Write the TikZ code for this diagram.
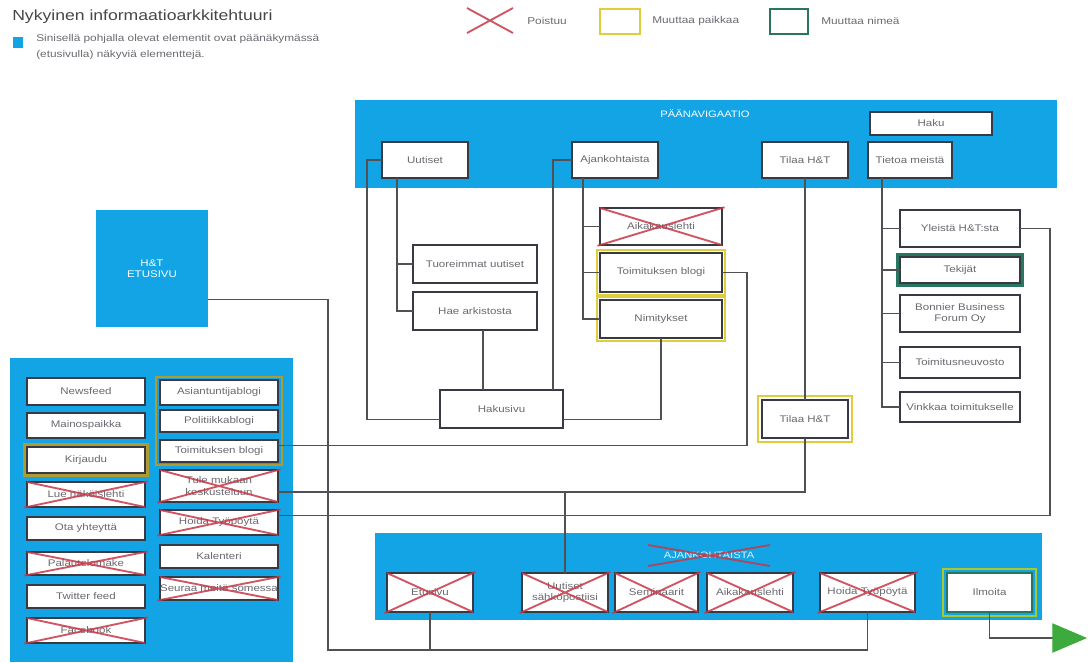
\documentclass[tikz,border=0pt]{standalone}
\usepackage{fontspec}
\setmainfont{Liberation Sans}[FakeStretch=1.2]
\usetikzlibrary{calc,arrows.meta}
\definecolor{panelblue}{RGB}{18,164,229}
\definecolor{edgecol}{RGB}{55,58,66}
\definecolor{txtcol}{RGB}{105,105,112}
\definecolor{xred}{RGB}{200,55,70}
\definecolor{ymove}{RGB}{222,205,60}
\definecolor{olivecol}{RGB}{175,155,50}
\definecolor{tealedge}{RGB}{40,118,95}
\definecolor{limecol}{RGB}{170,200,40}
\definecolor{arrowgreen}{RGB}{60,170,60}
\definecolor{conncol}{RGB}{80,80,85}
\definecolor{titlecol}{RGB}{70,70,75}
\tikzset{
  box/.style={draw=edgecol, line width=0.9pt, fill=white, text=txtcol,
    font=\fontsize{7.2}{8.4}\selectfont, inner sep=0pt, outer sep=0pt, align=center},
  conn/.style={draw=conncol, line width=0.8pt},
  xline/.style={draw=xred, line width=1.4pt, opacity=0.85, shorten <=-2pt, shorten >=-2pt},
  yring/.style={draw=ymove, line width=2.2pt},
  oring/.style={draw=olivecol, line width=2pt},
  tring/.style={draw=tealedge, line width=2.4pt},
  lring/.style={draw=limecol, line width=2pt},
  lbl/.style={text=txtcol, font=\fontsize{7.4}{12}\selectfont, inner sep=0pt, anchor=west, align=left},
}
\newcommand{\bx}[7][]{\node[box,minimum width={(#5-#3)*0.75pt},minimum height={(#6-#4)*0.75pt},#1] (#2) at ({(#3+#5)/2},{(#4+#6)/2}) {#7};}
\newcommand{\strikebox}[1]{\draw[xline] (#1.north west) -- (#1.south east) (#1.north east) -- (#1.south west);}
\newcommand{\ringaround}[3][yring]{\draw[#1] ([shift={(-#3,-#3)}]#2.north west) rectangle ([shift={(#3,#3)}]#2.south east);}
\begin{document}
\begin{tikzpicture}[x=0.75pt,y=-0.75pt]
\useasboundingbox (0,0) rectangle (1088,662);
% ---------- legend ----------
\node[lbl, text=titlecol, font=\fontsize{11}{13}\selectfont] (title) at (12,17) {Nykyinen informaatioarkkitehtuuri};
\fill[panelblue] (13,37) rectangle (23,48);
\node[lbl] (legtext) at (36,47) {Sinisellä pohjalla olevat elementit ovat päänäkymässä\\(etusivulla) näkyviä elementtejä.};
\draw[xline, shorten <=0pt, shorten >=0pt] (467,8) -- (513,33) (467,33) -- (513,8);
\node[lbl] (legx) at (527,21) {Poistuu};
\draw[ymove, line width=2pt] (600,9) rectangle (640,34);
\node[lbl] (legy) at (652,21) {Muuttaa paikkaa};
\draw[tealedge, line width=2pt] (770,9) rectangle (808,34);
\node[lbl] (legt) at (821,21) {Muuttaa nimeä};
% ---------- panels ----------
\fill[panelblue] (355,100) rectangle (1057,188);
\node[text=white, font=\fontsize{7}{9}\selectfont] (navlabel) at (705,114) {PÄÄNAVIGAATIO};
\fill[panelblue] (10,358) rectangle (293,662);
\fill[panelblue] (375,533) rectangle (1042,620);
\node[text=white!85!panelblue, font=\fontsize{7}{9}\selectfont] (ajlabel) at (709,555) {AJANKOHTAISTA};
\draw[xline, shorten <=0pt, shorten >=0pt] (648,545) -- (770,566) (648,566) -- (770,545);
% ---------- nav boxes ----------
\bx{uutiset}{382}{142}{468}{178}{Uutiset}
\bx{ajank}{572}{142}{658}{178}{Ajankohtaista}
\bx{tilaa}{762}{142}{848}{178}{Tilaa H\&T}
\bx{tietoa}{868}{142}{952}{178}{Tietoa meistä}
\bx{haku}{870}{112}{992}{135}{Haku}
% ---------- middle ----------
\bx{tuoreimmat}{413}{245}{537}{283}{Tuoreimmat uutiset}
\bx{haearkisto}{413}{292}{537}{330}{Hae arkistosta}
\bx{hakusivu}{440}{390}{563}{428}{Hakusivu}
\bx{aikakaus}{600}{208}{722}{245}{Aikakauslehti}
\bx{toimblogi}{600}{253}{722}{292}{Toimituksen blogi}
\bx{nimitykset}{600}{300}{722}{338}{Nimitykset}
\bx{tilaa2}{762}{400}{848}{438}{Tilaa H\&T}
\bx{yleista}{900}{210}{1020}{247}{Yleistä H\&T:sta}
\bx{tekijat}{900}{257}{1020}{283}{Tekijät}
\bx{bonnier}{900}{295}{1020}{332}{Bonnier Business\\Forum Oy}
\bx{toimneuv}{900}{347}{1020}{378}{Toimitusneuvosto}
\bx{vinkkaa}{900}{392}{1020}{422}{Vinkkaa toimitukselle}
\bx[fill=panelblue, draw=none, text=white]{htet}{96}{210}{208}{327}{H\&T\\ETUSIVU}
% ---------- left panel ----------
\bx{newsfeed}{27}{378}{145}{405}{Newsfeed}
\bx{mainos}{27}{413}{145}{438}{Mainospaikka}
\bx{kirjaudu}{27}{447}{145}{473}{Kirjaudu}
\bx{lue}{27}{482}{145}{507}{Lue näköislehti}
\bx{ota}{27}{517}{145}{540}{Ota yhteyttä}
\bx{palaute}{27}{552}{145}{575}{Palautelomake}
\bx{twitter}{27}{585}{145}{608}{Twitter feed}
\bx{facebook}{27}{618}{145}{643}{Facebook}
\bx{asiant}{160}{380}{278}{405}{Asiantuntijablogi}
\bx{politiikka}{160}{410}{278}{432}{Politiikkablogi}
\bx{ltoimblogi}{160}{440}{278}{462}{Toimituksen blogi}
\bx{ltule}{160}{470}{278}{502}{Tule mukaan\\keskusteluun}
\bx{lhoida}{160}{510}{278}{535}{Hoida Työpöytä}
\bx{kalenteri}{160}{545}{278}{568}{Kalenteri}
\bx{lseuraa}{160}{577}{278}{600}{Seuraa meitä somessa}
% ---------- bottom panel ----------
\bx{betu}{387}{573}{473}{612}{Etusivu}
\bx{uutissp}{522}{573}{608}{612}{Uutiset\\sähköpostiisi}
\bx{seminaarit}{615}{573}{698}{612}{Seminaarit}
\bx{baikakaus}{707}{573}{793}{612}{Aikakauslehti}
\bx{bhoida}{820}{573}{915}{612}{Hoida Työpöytä}
\bx[draw=tealedge]{ilmoita}{947}{573}{1032}{612}{Ilmoita}
% ---------- rings ----------
\ringaround{toimblogi}{3}
\ringaround{nimitykset}{3}
\ringaround{tilaa2}{4}
\ringaround[tring]{tekijat}{2.5}
\ringaround[oring]{kirjaudu}{2.5}
\draw[oring] ([shift={(-4,-3)}]asiant.north west) rectangle ([shift={(4,3)}]ltoimblogi.south east);
\ringaround[lring]{ilmoita}{4}
% ---------- crosses ----------
\strikebox{aikakaus}
\strikebox{lue}
\strikebox{palaute}
\strikebox{facebook}
\strikebox{ltule}
\strikebox{lhoida}
\strikebox{lseuraa}
\strikebox{betu}
\strikebox{uutissp}
\strikebox{seminaarit}
\strikebox{baikakaus}
\strikebox{bhoida}
% ---------- connectors ----------
\draw[conn] (uutiset.west) -- ++(-15,0) |- ([yshift=-8pt]hakusivu.west);
\coordinate (ub) at ($(uutiset.south west)+(15,0)$);
\draw[conn] (ub) |- (tuoreimmat.west);
\draw[conn] (ub) |- (haearkisto.west);
\coordinate (hab) at ($(haearkisto.south)+(8,0)$);
\draw[conn] (hab) -- (hab |- hakusivu.north);
\draw[conn] (ajank.west) -| ($(hakusivu.north east)+(-10,0)$);
\coordinate (ajb) at ($(ajank.south west)+(11,0)$);
\draw[conn] (ajb) |- (aikakaus.west);
\draw[conn] (ajb) |- (toimblogi.west);
\draw[conn] (ajb) |- (nimitykset.west);
\draw[conn] (nimitykset.south) |- ([yshift=-8pt]hakusivu.east);
\draw[conn] (toimblogi.east) -- ++(25,0) |- ([yshift=4pt]ltoimblogi.east);
\draw[conn] (tilaa.south) -- (tilaa2.north);
\coordinate (j492) at ([yshift=-4.5pt]ltule.east);
\draw[conn] (tilaa2.south) |- (j492);
\draw[conn] (uutissp.north) -- (uutissp.north |- j492);
\draw[conn] ([yshift=5pt]lhoida.east) -| ($(yleista.east)+(30,0)$) -- (yleista.east);
\coordinate (tb) at ($(tietoa.south west)+(14,0)$);
\draw[conn] (tb) |- (yleista.west);
\draw[conn] (tb) |- (tekijat.west);
\draw[conn] (tb) |- (bonnier.west);
\draw[conn] (tb) |- (toimneuv.west);
\draw[conn] (tb) |- (vinkkaa.west);
\draw[conn] ([yshift=-23pt]htet.east) -- ++(120,0) |- ($(bhoida.south)+(0,38)$) -- (bhoida.south);
\draw[conn] (betu.south) -- ++(0,38);
\coordinate (arrowend) at (1087,638);
\draw[conn, -{Triangle[length=26pt,width=22pt,color=arrowgreen]}] (ilmoita.south) |- (arrowend);
\end{tikzpicture}
\end{document}
